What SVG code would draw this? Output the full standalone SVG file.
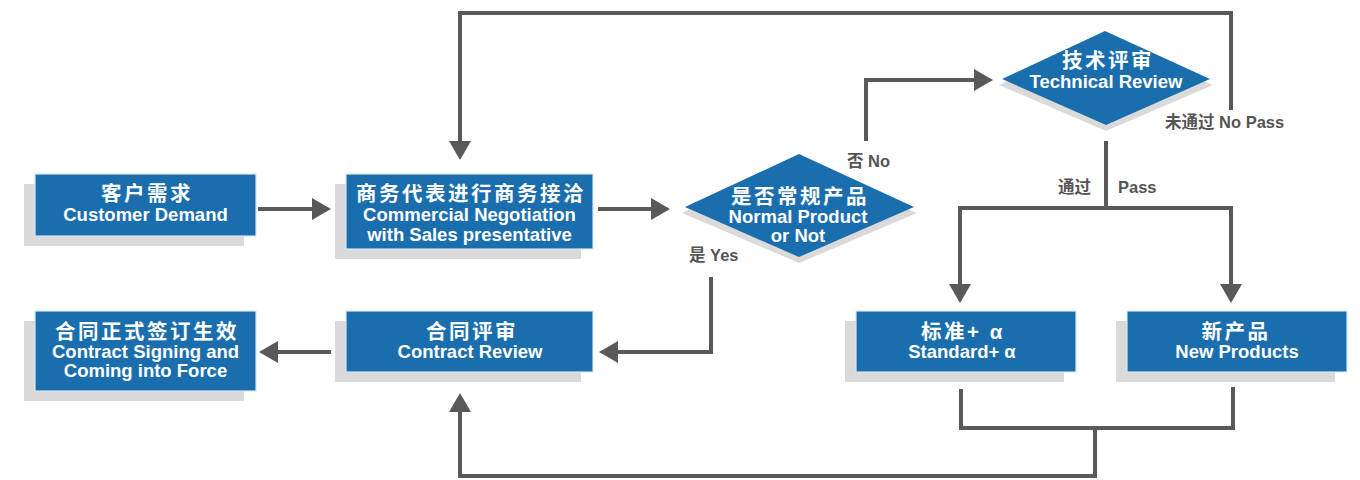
<svg xmlns="http://www.w3.org/2000/svg" width="1360" height="480" viewBox="0 0 1360 480">
<defs>
<style>
.box{fill:#1b6eae;stroke:#d6e6f3;stroke-width:1.2}
.sh{fill:#dadada}
.t{font-family:"Liberation Sans",Arial,"Noto Sans CJK SC",sans-serif;font-weight:bold;fill:#ffffff;text-anchor:middle}
.cn{font-size:20.5px;letter-spacing:2.5px}
.en{font-size:18.5px}
.lb{font-family:"Liberation Sans",Arial,"Noto Sans CJK SC",sans-serif;font-weight:bold;fill:#555555;font-size:16.5px}
.ln{fill:none;stroke:#595959;stroke-width:4;stroke-linejoin:miter;stroke-linecap:butt}
</style>
<marker id="ah" viewBox="0 0 19 22" refX="0" refY="11" markerWidth="19" markerHeight="22" markerUnits="userSpaceOnUse" orient="auto">
<path d="M0,0 L19,11 L0,22 Z" fill="#595959"/>
</marker>
</defs>
<rect width="1360" height="480" fill="#ffffff"/>

<g id="connectors">
<path class="ln" d="M258,209 H312" marker-end="url(#ah)"/>
<path class="ln" d="M598,209 H651" marker-end="url(#ah)"/>
<path class="ln" d="M866,141 V80 H974" marker-end="url(#ah)"/>
<path class="ln" d="M1231,110 V13 H460 V141" marker-end="url(#ah)"/>
<path class="ln" d="M1106,141 V208"/>
<path class="ln" d="M1106,208 H960 V284" marker-end="url(#ah)"/>
<path class="ln" d="M1106,208 H1231 V284" marker-end="url(#ah)"/>
<path class="ln" d="M961,389 V428 H1233 V387"/>
<path class="ln" d="M1095,428 V476 H460 V412" marker-end="url(#ah)"/>
<path class="ln" d="M711,277 V352 H618" marker-end="url(#ah)"/>
<path class="ln" d="M331,352 H278" marker-end="url(#ah)"/>
</g>

<g id="customer-demand">
<rect class="sh" x="24" y="184" width="220" height="62"/>
<rect class="box" x="35" y="174" width="221" height="62"/>
<text class="t cn" x="147" y="201">客户需求</text>
<text class="t en" x="145.5" y="221">Customer Demand</text>
</g>

<g id="commercial-negotiation">
<rect class="sh" x="335" y="184" width="246" height="75"/>
<rect class="box" x="346" y="174" width="247" height="75"/>
<text class="t cn" x="471" y="201">商务代表进行商务接洽</text>
<text class="t en" x="469.5" y="221">Commercial Negotiation</text>
<text class="t en" x="469.5" y="241">with Sales presentative</text>
</g>

<g id="normal-product">
<polygon class="sh" points="682,213 799,160 917,213 799,263"/>
<polygon fill="#1b6eae" points="685,207 799,154 914,207 799,257"/>
<text class="t cn" x="800" y="204">是否常规产品</text>
<text class="t en" x="798" y="223">Normal Product</text>
<text class="t en" x="798" y="242">or Not</text>
</g>

<g id="technical-review">
<polygon class="sh" points="999,85 1105,37 1213,85 1106,131"/>
<polygon fill="#1b6eae" points="1002,79 1105,31 1210,79 1106,125"/>
<text class="t cn" x="1108" y="68">技术评审</text>
<text class="t en" x="1106" y="88">Technical Review</text>
</g>

<g id="standard-alpha">
<rect class="sh" x="845" y="321" width="219" height="61"/>
<rect class="box" x="856" y="311" width="220" height="61"/>
<text class="t cn" x="963" y="339">标准+ α</text>
<text class="t en" x="962" y="358">Standard+ α</text>
</g>

<g id="new-products">
<rect class="sh" x="1116" y="321" width="219" height="61"/>
<rect class="box" x="1127" y="311" width="220" height="61"/>
<text class="t cn" x="1236" y="339">新产品</text>
<text class="t en" x="1237" y="358">New Products</text>
</g>

<g id="contract-review">
<rect class="sh" x="335" y="321" width="246" height="61"/>
<rect class="box" x="346" y="311" width="247" height="61"/>
<text class="t cn" x="472" y="339">合同评审</text>
<text class="t en" x="470" y="358">Contract Review</text>
</g>

<g id="contract-signing">
<rect class="sh" x="24" y="321" width="220" height="80"/>
<rect class="box" x="35" y="311" width="221" height="80"/>
<text class="t cn" x="147" y="339">合同正式签订生效</text>
<text class="t en" x="145.5" y="358">Contract Signing and</text>
<text class="t en" x="145.5" y="377">Coming into Force</text>
</g>

<g id="labels">
<text class="lb" x="847" y="167">否 No</text>
<text class="lb" x="689" y="261">是 Yes</text>
<text class="lb" x="1165" y="128">未通过 No Pass</text>
<text class="lb" x="1058" y="193">通过</text>
<text class="lb" x="1118" y="193">Pass</text>
</g>
</svg>
